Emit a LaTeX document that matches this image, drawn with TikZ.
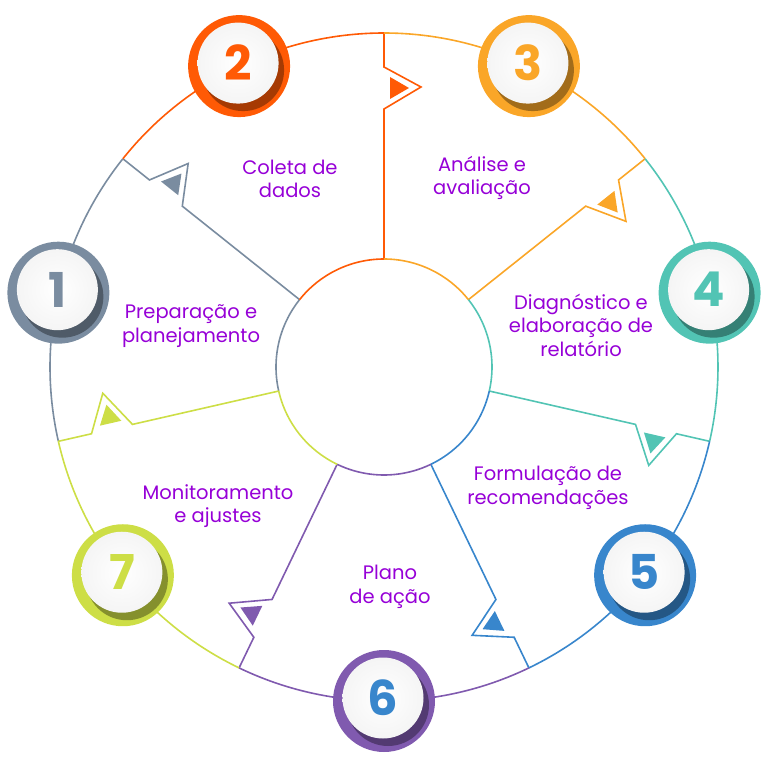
\documentclass[tikz,border=0pt]{standalone}
\usepackage{fontspec}
\setmainfont{Poppins}
\usetikzlibrary{positioning,calc}

\definecolor{cone}{RGB}{122,140,160}
\definecolor{ctwo}{RGB}{255,90,5}
\definecolor{cthree}{RGB}{250,166,40}
\definecolor{cfour}{RGB}{82,196,180}
\definecolor{cfive}{RGB}{56,134,204}
\definecolor{csix}{RGB}{128,90,175}
\definecolor{cseven}{RGB}{205,222,70}
\definecolor{txtpurple}{RGB}{150,0,215}

\tikzset{
  steptext/.style={text=txtpurple, align=center, font=\fontsize{19.5}{23.5}\selectfont},
  numtext/.style={font=\fontsize{48}{48}\selectfont\bfseries, inner sep=0pt},
  rim/.style={line width=1.6pt},
}

\begin{document}
\begin{tikzpicture}[x=1pt,y=1pt]
  \useasboundingbox (-384,-399) rectangle (384,367);
  \def\R{334} % outer radius
  \def\r{108} % inner radius
  \def\w{25.714286} % half of one sector
  % arcs and dividers of the 7 sectors
  \foreach \k/\c in {1/cone,2/ctwo,3/cthree,4/cfour,5/cfive,6/csix,7/cseven} {
    \pgfmathsetmacro\a{167.142857-(\k-1)*51.428571}
    \draw[rim,\c] (\a+\w:\R) arc[start angle=\a+\w, end angle=\a-\w, radius=\R];
    \draw[rim,\c] (\a+\w:\r) arc[start angle=\a+\w, end angle=\a-\w, radius=\r];
    \begin{scope}[rotate=\a-\w]
      \draw[rim,\c,line join=miter] (\r,0) -- (258,0) -- (280,-37) -- (300,0) -- (\R,0);
      \fill[\c] (268,-6) -- (290,-6) -- (279,-25) -- cycle;
    \end{scope}
  }
  % numbered badges
  \foreach \k/\c/\n in {1/cone/cone,2/ctwo/ctwo,3/cthree/cthree,4/cfour/cfour,5/cfive/cfive,6/csix/cfive,7/cseven/cseven} {
    \pgfmathsetmacro\a{167.142857-(\k-1)*51.428571}
    \fill[\c] (\a:\R) circle (51);
    \fill[\c!65!black] ($(\a:\R)+(4,-4)$) circle (41);
    \shade[inner color=white, outer color=gray!8] ($(\a:\R)+(-1,3)$) circle (40.5);
    \node[numtext, text=\n] (badge\k) at ($(\a:\R)+(-1,3)$) {\k};
  }
  % step labels
  \node[steptext] (prep) at (-193,41) {Preparação e\\planejamento};
  \node[steptext] (coleta) at (-94,188) {Coleta de\\dados};
  \node[steptext] (analise) at (98,189) {Análise e\\avaliação};
  \node[steptext] (diag) at (197,42) {Diagnóstico e\\elaboração de\\relatório};
  \node[steptext] (formul) at (164,-121) {Formulação de\\recomendações};
  \node[steptext] (plano) at (6,-220) {Plano\\de ação};
  \node[steptext] (monit) at (-166,-139) {Monitoramento\\e ajustes};
\end{tikzpicture}
\end{document}
